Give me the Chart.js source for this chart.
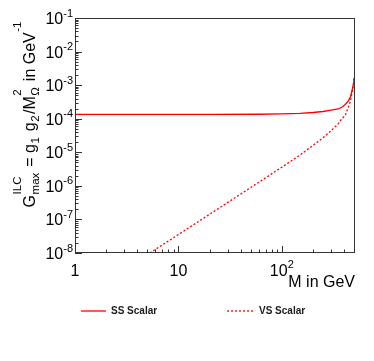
<!DOCTYPE html>
<html><head><meta charset="utf-8">
<script src="https://cdn.jsdelivr.net/npm/chart.js@4.4.1/dist/chart.umd.min.js"></script>
<style>html,body{margin:0;padding:0;background:#fff}</style>
</head><body>
<canvas id="c" width="374" height="361" style="width:374px;height:361px;display:block"></canvas>
<script>
// ---- data ----
const seriesLabels = ['SS Scalar', 'VS Scalar'];
const ssMass   = [1, 20, 60, 100, 150, 200, 250, 300, 350, 380, 410, 440, 460, 475, 485, 492, 497, 500];
const ssValues = [1.35e-4, 1.35e-4, 1.36e-4, 1.39e-4, 1.45e-4, 1.53e-4, 1.64e-4, 1.80e-4, 1.95e-4, 2.2e-4, 2.65e-4, 3.4e-4, 4.4e-4, 6.5e-4, 8.5e-4, 1.1e-3, 1.4e-3, 1.65e-3];
const vsMass   = [5.3, 10, 20, 50, 100, 150, 200, 250, 300, 350, 380, 410, 440, 460, 475, 485, 492, 497, 500];
const vsValues = [1e-8, 3.55e-8, 1.42e-7, 8.9e-7, 3.6e-6, 8.3e-6, 1.6e-5, 2.7e-5, 4.4e-5, 7.0e-5, 1.0e-4, 1.25e-4, 2.2e-4, 3.3e-4, 5.5e-4, 7.5e-4, 1.0e-3, 1.3e-3, 1.55e-3];
// tick labels: value, base, exponent
const xTickValues = [1, 10, 100];
const xTickBases  = ['1', '10', '10'];
const xTickExps   = ['', '', '2'];
const yTickValues = [1e-8, 1e-7, 1e-6, 1e-5, 1e-4, 1e-3, 1e-2, 1e-1];
const yTickBases  = ['10', '10', '10', '10', '10', '10', '10', '10'];
const yTickExps   = ['-8', '-7', '-6', '-5', '-4', '-3', '-2', '-1'];
const xTitle = 'M in GeV';

const FONT = '"Liberation Sans", Arial, Helvetica, sans-serif';
const RED = '#ff0000';

function findIdx(values, v) {
  for (let i = 0; i < values.length; i++) if (Math.abs(Math.log10(v) - Math.log10(values[i])) < 1e-6) return i;
  return -1;
}
function logTicks(min, max) {
  const out = [];
  for (let e = Math.floor(Math.log10(min)); e <= Math.ceil(Math.log10(max)); e++) {
    for (let m = 1; m <= 9; m++) {
      const v = parseFloat((m * Math.pow(10, e)).toPrecision(6));
      if (v >= min * 0.999999 && v <= max * 1.000001) out.push({value: v, major: m === 1});
    }
  }
  return out;
}

const BIG = '16px ' + FONT, SMALL = '11px ' + FONT;

const framePlugin = {
  id: 'frame',
  afterDatasetsDraw(chart) {
    const {ctx, chartArea: {left, right, top, bottom}, scales: {x, y}} = chart;
    ctx.save();
    ctx.strokeStyle = '#333';
    ctx.lineWidth = 1;
    ctx.strokeRect(left + 0.5, top + 0.5, right - left - 1, bottom - top - 1);
    ctx.beginPath();
    x.ticks.forEach(t => {
      const px = Math.round(x.getPixelForValue(t.value)) + 0.5;
      const len = t.major ? 7 : 3.5;
      ctx.moveTo(px, bottom); ctx.lineTo(px, bottom - len);
    });
    y.ticks.forEach(t => {
      const py = Math.round(y.getPixelForValue(t.value)) + 0.5;
      const len = t.major ? 7 : 3.5;
      ctx.moveTo(left, py); ctx.lineTo(left + len, py);
    });
    ctx.stroke();

    // tick labels with raised exponents
    ctx.fillStyle = '#000';
    ctx.textBaseline = 'alphabetic';
    ctx.textAlign = 'left';
    x.ticks.forEach(t => {
      const i = findIdx(xTickValues, t.value);
      if (i < 0) return;
      const px = x.getPixelForValue(t.value);
      ctx.font = BIG; const wb = ctx.measureText(xTickBases[i]).width;
      ctx.font = SMALL; const we = xTickExps[i] ? ctx.measureText(xTickExps[i]).width : 0;
      const x0 = px - (wb + we) / 2;
      ctx.font = BIG; ctx.fillText(xTickBases[i], x0, bottom + 23);
      if (we) { ctx.font = SMALL; ctx.fillText(xTickExps[i], x0 + wb, bottom + 15); }
    });
    y.ticks.forEach(t => {
      const i = findIdx(yTickValues, t.value);
      if (i < 0) return;
      const py = y.getPixelForValue(t.value);
      ctx.font = SMALL; const we = ctx.measureText(yTickExps[i]).width;
      ctx.font = BIG; const wb = ctx.measureText(yTickBases[i]).width;
      const xr = left - 2;
      ctx.font = BIG; ctx.fillText(yTickBases[i], xr - we - wb, py + 6);
      ctx.font = SMALL; ctx.fillText(yTickExps[i], xr - we, py - 1.5);
    });
    ctx.restore();
  },
  afterDraw(chart) {
    const ctx = chart.ctx;
    // y axis title (rich text, rotated)
    const runs = [
      {n: 'G'}, {sup: 'ILC', sub: 'max'}, {n: ' = g'}, {sub: '1'}, {n: ' g'}, {sub: '2'},
      {n: '/M'}, {sup: '2', sub: '\u03A9'}, {n: ' in GeV'}, {sup: '-1'}
    ];
    const small = '11.5px ' + FONT;
    const SUP = -14, SUB = 4;
    ctx.save();
    const widths = runs.map(r => {
      if (r.n) { ctx.font = BIG; return ctx.measureText(r.n).width; }
      ctx.font = small;
      return Math.max(r.sup ? ctx.measureText(r.sup).width : 0, r.sub ? ctx.measureText(r.sub).width : 0) + 2;
    });
    const W = widths.reduce((a, b) => a + b, 0);
    const endY = 20, baseX = 35;
    ctx.translate(baseX, endY + W);
    ctx.rotate(-Math.PI / 2);
    ctx.fillStyle = '#000';
    ctx.textBaseline = 'alphabetic';
    ctx.textAlign = 'left';
    let u = 0;
    runs.forEach((r, i) => {
      if (r.n) { ctx.font = BIG; ctx.fillText(r.n, u, 0); }
      else {
        ctx.font = small;
        if (r.sup) ctx.fillText(r.sup, u + 0.5, SUP);
        if (r.sub) ctx.fillText(r.sub, u + 0.5, SUB);
      }
      u += widths[i];
    });
    ctx.restore();

    // legend
    const items = [
      {x0: 81, x1: 106, tx: 111},
      {x0: 227, x1: 253, tx: 259}
    ];
    const ly = 311;
    ctx.save();
    chart.data.datasets.forEach((ds, i) => {
      const it = items[i];
      ctx.strokeStyle = ds.borderColor;
      ctx.lineWidth = ds.borderWidth;
      ctx.setLineDash(ds.borderDash || []);
      ctx.beginPath(); ctx.moveTo(it.x0, ly); ctx.lineTo(it.x1, ly); ctx.stroke();
      ctx.setLineDash([]);
      ctx.font = 'bold 10px ' + FONT;
      ctx.fillStyle = '#1a1a1a';
      ctx.textBaseline = 'middle';
      ctx.fillText(ds.label, it.tx, ly + 0.5);
    });
    ctx.restore();
  }
};

new Chart(document.getElementById('c'), {
  type: 'line',
  data: {
    datasets: [
      {label: seriesLabels[0], data: ssMass.map((m, i) => ({x: m, y: ssValues[i]})),
       borderColor: RED, borderWidth: 1.3, pointRadius: 0, tension: 0, fill: false},
      {label: seriesLabels[1], data: vsMass.map((m, i) => ({x: m, y: vsValues[i]})),
       borderColor: RED, borderWidth: 1.3, borderDash: [2, 2], pointRadius: 0, tension: 0, fill: false}
    ]
  },
  options: {
    responsive: false,
    animation: false,
    devicePixelRatio: 1,
    layout: {padding: {left: 0, right: 19, top: 18, bottom: 63}},
    plugins: {legend: {display: false}, tooltip: {enabled: false}},
    scales: {
      x: {
        type: 'logarithmic', min: 1, max: 510,
        afterBuildTicks: s => { s.ticks = logTicks(1, 510); },
        afterFit: s => { s.height = 45; },
        grid: {display: false},
        border: {display: false},
        ticks: {display: false, autoSkip: false},
        title: {display: true, text: xTitle, align: 'end', color: '#000',
                font: {family: FONT, size: 16}, padding: {top: 0, bottom: 6}}
      },
      y: {
        type: 'logarithmic', min: 1e-8, max: 1e-1,
        afterBuildTicks: s => { s.ticks = logTicks(1e-8, 1e-1); },
        afterFit: s => { s.width = 75; },
        grid: {display: false},
        border: {display: false},
        ticks: {display: false, autoSkip: false}
      }
    }
  },
  plugins: [framePlugin]
});
</script>
</body></html>
